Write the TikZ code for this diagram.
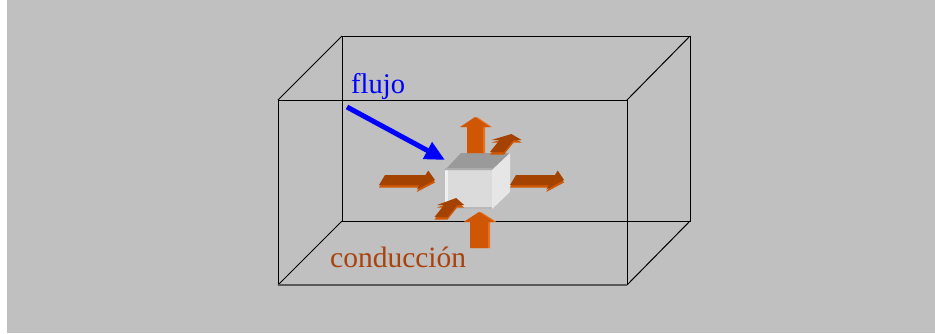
\documentclass[tikz,border=0pt]{standalone}
\usepackage{fontspec}
\setmainfont{Liberation Serif}
\usetikzlibrary{arrows.meta}
\definecolor{bg}{HTML}{C0C0C0}
\definecolor{orbright}{RGB}{206,86,4}
\definecolor{orside}{RGB}{234,114,34}
\definecolor{ordark}{RGB}{164,66,2}
\definecolor{txtbrown}{RGB}{168,66,14}
\definecolor{topface}{HTML}{9A9A9A}
\definecolor{frontface}{HTML}{DBDBDB}
\definecolor{rightface}{HTML}{E6E6E6}
\tikzset{
  boxline/.style={draw=black, line width=1pt},
  labeltext/.style={anchor=base west, inner sep=0pt},
}
% #1,#2 base centre; #3 shaft half width; #4 head half width; #5 head base; #6 length
\newcommand\arrowpoly[4]{(0,-#1) -- (#3,-#1) -- (#3,-#2) -- (#4,0) -- (#3,#2) -- (#3,#1) -- (0,#1) -- cycle}
\newcommand\uparr[6]{%
  \begin{scope}[shift={(#1,#2)}, x={(0pt,1pt)}, y={(1pt,0pt)}]
    \fill[orside, xshift=2pt] \arrowpoly{#3}{#4}{#5}{#6};
    \fill[orbright] \arrowpoly{#3}{#4}{#5}{#6};
  \end{scope}}
\newcommand\hzarr[6]{%
  \begin{scope}[shift={(#1,#2)}, x={(1pt,0pt)}, y={(0.6pt,1pt)}]
    \fill[orbright, yshift=-2.5pt] \arrowpoly{#3}{#4}{#5}{#6};
    \fill[ordark] \arrowpoly{#3}{#4}{#5}{#6};
  \end{scope}}
\newcommand\dgarr[6]{%
  \begin{scope}[shift={(#1,#2)}, x={(0.8pt,1pt)}, y={(1pt,0pt)}]
    \fill[orbright, yshift=-2.5pt] \arrowpoly{#3}{#4}{#5}{#6};
    \fill[ordark] \arrowpoly{#3}{#4}{#5}{#6};
  \end{scope}}
\begin{document}
\begin{tikzpicture}[x=1pt,y=-1pt]
\useasboundingbox (0,0) rectangle (935,333);
\fill[white] (0,0) rectangle (935,333);
\fill[bg] (7,0) rectangle (935,333);
% outer box
\coordinate (f1) at (278,100);
\coordinate (f2) at (627,100);
\coordinate (f3) at (627,285);
\coordinate (f4) at (278,285);
\coordinate (b1) at (342,36);
\coordinate (b2) at (690,36);
\coordinate (b3) at (690,221);
\coordinate (b4) at (342,221);
\draw[boxline] (b1) -- (b2) -- (b3) -- (b4) -- cycle;
\draw[boxline] (f1) -- (b1) (f2) -- (b2) (f3) -- (b3) (f4) -- (b4);
\draw[boxline] (f4) -- (f1) -- (f2) -- (f3);
\draw[boxline, line width=1.8pt, draw=black!65] (f4) -- (f3);
% small cube
\fill[frontface] (445,170) rectangle (492,209);
\fill[black!6] (445,170) rectangle (448,209);
\fill[black!28] (445,206.5) rectangle (492,209);
\fill[topface] (445,170) -- (492,170) -- (510,153) -- (461,153) -- cycle;
\fill[black!32] (445,167.5) -- (492,167.5) -- (492,170) -- (445,170) -- cycle;
\fill[rightface] (492,170) -- (510,153) -- (510,192) -- (492,209) -- cycle;
\coordinate (cubecorner) at (445,160);
% orange arrows
\uparr{475}{153}{8}{15}{26}{36}
\uparr{479}{248}{9}{15.5}{26}{36}
\hzarr{382}{180}{5}{9.5}{40.5}{53}
\hzarr{513}{180}{5}{9.5}{39}{51}
\dgarr{497}{152}{7}{15}{12}{18}
\dgarr{441}{217}{6.5}{13.5}{12}{19}
% labels
\node[labeltext, text=blue, font=\fontsize{28.5}{30}\selectfont] (flujo) at (351,93) {flujo};
\node[labeltext, text=txtbrown, font=\fontsize{29.5}{31}\selectfont] (cond) at (330,267) {conducción};
% blue arrow
\coordinate (bs) at (347,107);
\draw[blue, line width=5pt, -{Triangle[length=20pt,width=18pt]}] (bs) -- (cubecorner);
\end{tikzpicture}
\end{document}
